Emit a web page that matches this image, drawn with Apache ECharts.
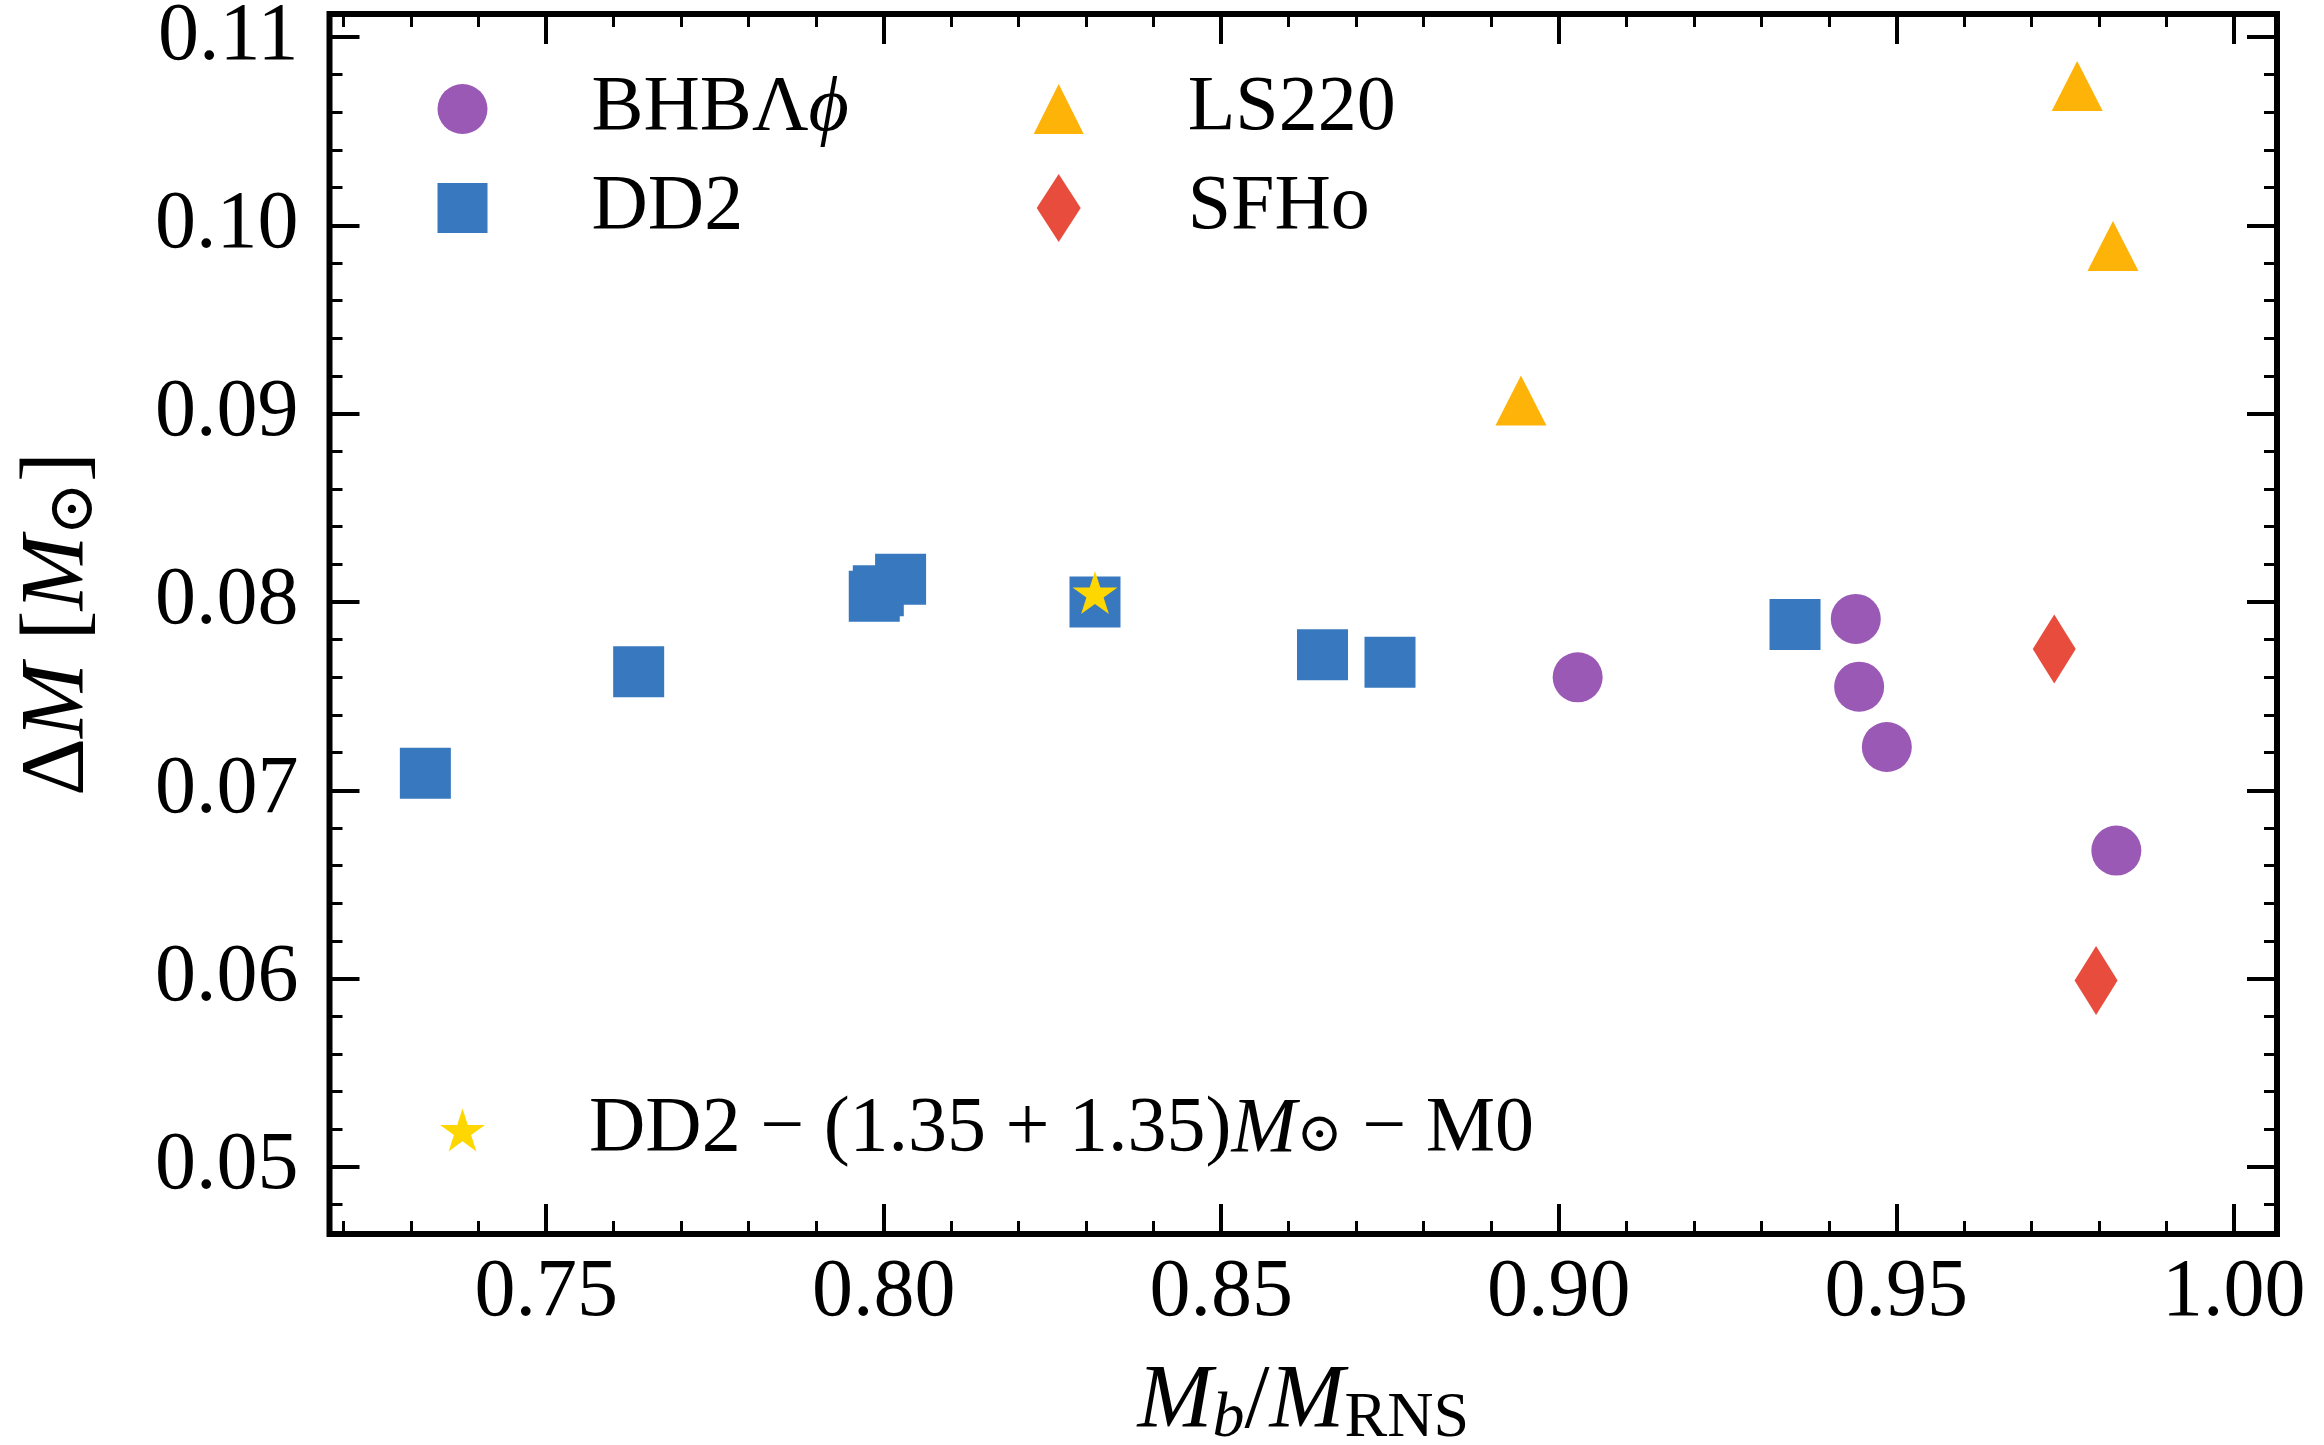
<!DOCTYPE html>
<html>
<head>
<meta charset="utf-8">
<title>Delta M vs Mb/MRNS</title>
<script src="https://cdn.jsdelivr.net/npm/echarts@6/dist/echarts.min.js"></script>
<style>
  html, body { margin: 0; padding: 0; background: #fff; }
  #chart { width: 2324px; height: 1445px; }
</style>
</head>
<body>
<div id="chart"></div>
<script>
// points: [Mb/MRNS, deltaM]
const bhbData = [[0.9028, 0.0760], [0.9440, 0.0791], [0.9445, 0.0755], [0.9486, 0.0723], [0.9826, 0.0668]];
const dd2Data = [[0.7321, 0.0709], [0.7637, 0.0763], [0.7986, 0.0803], [0.7992, 0.0806], [0.8025, 0.0812],
  [0.8313, 0.0800], [0.8650, 0.0772], [0.8750, 0.0768], [0.9350, 0.0788]];
const ls220Data = [[0.8944, 0.0907], [0.9768, 0.1074], [0.9821, 0.0989]];
const sfhoData = [[0.9734, 0.0775], [0.9796, 0.0599]];
const dd2RefData = [[0.8313, 0.0805]];

const seriesNames = ['BHBΛϕ', 'DD2', 'LS220', 'SFHo', 'DD2 − (1.35 + 1.35)M⊙ − M0'];

// axis limits and ticks
const xRange = [0.7179, 1.0064];
const yRange = [0.04644, 0.11122];
const xMajorTicks = [0.75, 0.80, 0.85, 0.90, 0.95, 1.00];
const xMinorTicks = [0.72, 0.73, 0.74, 0.76, 0.77, 0.78, 0.79, 0.81, 0.82, 0.83, 0.84, 0.86, 0.87, 0.88, 0.89,
  0.91, 0.92, 0.93, 0.94, 0.96, 0.97, 0.98, 0.99];
const yMajorTicks = [0.05, 0.06, 0.07, 0.08, 0.09, 0.10, 0.11];
const yMinorTicks = [0.048, 0.052, 0.054, 0.056, 0.058, 0.062, 0.064, 0.066, 0.068, 0.072, 0.074, 0.076, 0.078,
  0.082, 0.084, 0.086, 0.088, 0.092, 0.094, 0.096, 0.098, 0.102, 0.104, 0.106, 0.108];

document.addEventListener('DOMContentLoaded', function() {
  const chart = echarts.init(document.getElementById('chart'), null, { renderer: 'canvas' });
  const serif = '"Liberation Serif", "DejaVu Serif", serif';

  const colors = {
    bhb: '#9b59b6',
    dd2: '#3778bf',
    ls220: '#feb308',
    sfho: '#e74c3c',
    star: '#ffd700'
  };

  const starPath = 'path://M0,-1L0.2245,-0.309L0.9511,-0.309L0.3633,0.118L0.5878,0.809L0,0.382L-0.5878,0.809L-0.3633,0.118L-0.9511,-0.309L-0.2245,-0.309Z';
  const squarePath = 'path://M0,0H10V10H0Z';
  const trianglePath = 'path://M5,0L10,10H0Z';
  const diamondPath = 'path://M22,0L44,34L22,68L0,34Z';

  // rich text for axis names
  const nameRich = {
    n: { fontFamily: serif, fontSize: 90, lineHeight: 96, color: '#000' },
    i: { fontFamily: serif, fontSize: 90, fontStyle: 'italic', lineHeight: 96, color: '#000' },
    s: { fontFamily: serif, fontSize: 64, lineHeight: 42, verticalAlign: 'bottom', color: '#000' },
    sb: { fontFamily: serif, fontSize: 64, fontStyle: 'italic', lineHeight: 38, verticalAlign: 'bottom', color: '#000' }
  };
  // rich text for legend
  const legendRich = {
    n: { fontFamily: serif, fontSize: 78, lineHeight: 68, color: '#000' },
    i: { fontFamily: serif, fontSize: 78, fontStyle: 'italic', lineHeight: 68, color: '#000' },
    s: { fontFamily: serif, fontSize: 55, lineHeight: 30, verticalAlign: 'bottom', color: '#000' }
  };
  const legendLabels = {};
  legendLabels[seriesNames[0]] = '{n|BHBΛ}{i|ϕ}';
  legendLabels[seriesNames[1]] = '{n|DD2}';
  legendLabels[seriesNames[2]] = '{n|LS220}';
  legendLabels[seriesNames[3]] = '{n|SFHo}';
  legendLabels[seriesNames[4]] = '{n|DD2 − (1.35 + 1.35)}{i|M}{s|⊙}{n| − M0}';

  function axisDef(kind, pos, ticks, tickLen, tickWidth, withLabels) {
    const range = kind === 'x' ? xRange : yRange;
    const ax = {
      type: 'value',
      position: pos,
      min: range[0],
      max: range[1],
      axisLine: { show: false },
      splitLine: { show: false },
      axisTick: {
        show: true,
        inside: true,
        length: tickLen,
        customValues: ticks,
        lineStyle: { color: '#000', width: tickWidth }
      },
      axisLabel: { show: false }
    };
    if (withLabels) {
      ax.axisLabel = {
        show: true,
        customValues: ticks,
        margin: kind === 'x' ? 18 : 31,
        formatter: v => v.toFixed(2),
        fontSize: 82,
        fontFamily: serif,
        color: '#000'
      };
    }
    return ax;
  }

  const xMain = axisDef('x', 'bottom', xMajorTicks, 30, 4, true);
  xMain.name = '{i|M}{sb|b}{n|/}{i|M}{s|RNS}';
  xMain.nameLocation = 'middle';
  xMain.nameGap = 121;
  xMain.nameTextStyle = { rich: nameRich };

  const yMain = axisDef('y', 'left', yMajorTicks, 30, 4, true);
  yMain.name = '{n|Δ}{i|M}{n| [}{i|M}{s|⊙}{n|]}';
  yMain.nameLocation = 'middle';
  yMain.nameGap = 222;
  yMain.nameTextStyle = { rich: nameRich };

  function legendDef(left, top, items, w, h) {
    return {
      orient: 'vertical',
      left: left,
      top: top,
      padding: 0,
      itemGap: 21,
      itemWidth: w,
      itemHeight: h,
      selectedMode: false,
      data: items,
      formatter: name => legendLabels[name],
      textStyle: { fontFamily: serif, fontSize: 78, lineHeight: 68, color: '#000', padding: [0, 0, 0, 99], rich: legendRich }
    };
  }

  function scatter(name, data, symbol, size, color) {
    return {
      name: name,
      type: 'scatter',
      data: data,
      symbol: symbol,
      symbolSize: size,
      symbolKeepAspect: false,
      itemStyle: { color: color, opacity: 1 },
      emphasis: { disabled: true }
    };
  }

  const option = {
    backgroundColor: '#fff',
    animation: false,
    grid: {
      left: 329.5,
      right: 47,
      top: 14,
      bottom: 211,
      show: true,
      borderColor: '#000',
      borderWidth: 6,
      backgroundColor: 'transparent',
      containLabel: false,
      outerBoundsMode: 'none'
    },
    legend: [
      legendDef(437.5, 70, [{ name: seriesNames[0], icon: 'circle' }, { name: seriesNames[1], icon: squarePath }], 50, 68),
      legendDef(1033.7, 70, [{ name: seriesNames[2], icon: trianglePath }, { name: seriesNames[3], icon: diamondPath }], 50, 68),
      legendDef(440, 1091, [{ name: seriesNames[4], icon: starPath }], 45, 45)
    ],
    xAxis: [
      xMain,
      axisDef('x', 'bottom', xMinorTicks, 13, 3, false),
      axisDef('x', 'top', xMajorTicks, 30, 4, false),
      axisDef('x', 'top', xMinorTicks, 13, 3, false)
    ],
    yAxis: [
      yMain,
      axisDef('y', 'left', yMinorTicks, 13, 3, false),
      axisDef('y', 'right', yMajorTicks, 30, 4, false),
      axisDef('y', 'right', yMinorTicks, 13, 3, false)
    ],
    series: [
      scatter(seriesNames[0], bhbData, 'circle', 50, colors.bhb),
      scatter(seriesNames[1], dd2Data, 'rect', 51, colors.dd2),
      scatter(seriesNames[2], ls220Data, 'triangle', [51, 50], colors.ls220),
      scatter(seriesNames[3], sfhoData, 'diamond', [43, 69], colors.sfho),
      scatter(seriesNames[4], dd2RefData, starPath, [45, 43], colors.star)
    ]
  };

  chart.setOption(option);
});
</script>
</body>
</html>
